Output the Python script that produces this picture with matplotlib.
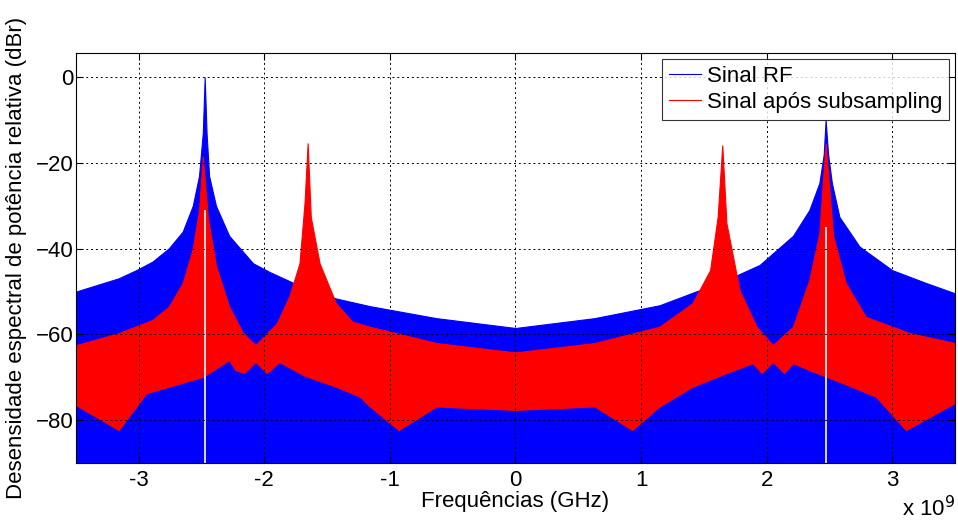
import numpy as np
import matplotlib
matplotlib.use("Agg")
import matplotlib.pyplot as plt

plt.rcParams['font.family'] = ['Liberation Sans', 'DejaVu Sans']

# === Envolventes (freq em GHz, nivel em dBr) ===
rf_freq = [-3.5, -3.16, -3.02, -2.89, -2.76, -2.65, -2.57, -2.52, -2.49, -2.475,
           -2.46, -2.44, -2.385, -2.28, -2.09, -1.96, -1.70, -1.43, -1.16, -0.63,
           0.0, 0.63, 1.147, 1.68, 1.944, 2.21, 2.34, 2.42, 2.455, 2.47,
           2.49, 2.52, 2.58, 2.74, 3.0, 3.27, 3.5]
rf_top = [-50.0, -46.9, -45.0, -43.0, -39.9, -36.0, -30.0, -23.0, -13.0, 0.0,
          -13.0, -23.0, -30.0, -37.0, -43.4, -45.4, -48.9, -51.6, -53.4, -56.2,
          -58.5, -56.2, -53.2, -47.3, -43.8, -37.0, -31.0, -24.7, -18.0, -10.0,
          -18.0, -24.7, -32.6, -39.5, -45.0, -48.0, -50.4]

sub_freq_top = [-3.5, -3.16, -2.89, -2.76, -2.65, -2.57, -2.52, -2.49, -2.45, -2.385,
                -2.28, -2.17, -2.07, -1.90, -1.80, -1.72, -1.68, -1.655, -1.63, -1.56,
                -1.43, -1.30, -1.16, -0.63, 0.0, 0.63, 1.147, 1.41, 1.55, 1.61,
                1.647, 1.68, 1.785, 1.92, 2.05, 2.21, 2.34, 2.42, 2.47, 2.53,
                2.63, 2.79, 3.14, 3.5]
sub_top = [-62.5, -59.7, -56.6, -53.5, -48.0, -40.0, -31.0, -18.6, -32.6, -44.0,
           -53.5, -59.7, -62.5, -57.4, -51.0, -43.4, -29.4, -15.4, -32.6, -43.4,
           -52.7, -57.0, -58.2, -62.0, -64.2, -62.0, -58.2, -52.7, -45.0, -32.6,
           -15.9, -34.0, -49.7, -58.2, -62.5, -58.2, -47.3, -36.4, -15.5, -37.0,
           -48.0, -55.9, -59.7, -62.0]

sub_freq_bot = [-3.5, -3.16, -2.94, -2.76, -2.49, -2.28, -2.23, -2.16, -2.07, -1.98,
                -1.88, -1.69, -1.43, -1.24, -1.16, -0.93, -0.63, 0.0, 0.63, 0.93,
                1.147, 1.41, 1.68, 1.89, 1.96, 2.05, 2.14, 2.21, 2.34, 2.61,
                2.87, 3.11, 3.5]
sub_bot = [-76.5, -82.3, -73.7, -72.2, -69.9, -66.0, -68.3, -69.0, -66.4, -69.0,
           -66.4, -69.5, -72.2, -74.5, -76.8, -82.3, -76.8, -77.6, -76.8, -82.3,
           -76.8, -72.2, -69.0, -66.7, -69.0, -66.4, -69.0, -66.7, -68.3, -71.4,
           -74.5, -82.3, -76.0]

# bins vazios na frequencia da portadora (linha branca)
notch_freq = [-2.475, 2.47]
notch_top = [-31.0, -35.0]

piso = -95.0

# === Figura ===
fig = plt.figure(figsize=(9.58, 5.2), dpi=100)
ax = fig.add_axes([0.0793, 0.1096, 0.9175, 0.788])

sf_top = np.array(sub_freq_top) * 1e9
sf_bot = np.array(sub_freq_bot) * 1e9
sf_all = np.union1d(sf_top, sf_bot)

ax.fill_between(np.array(rf_freq) * 1e9, piso, rf_top, color='#0000ff', lw=0.8)
ax.fill_between(sf_all, np.interp(sf_all, sf_bot, sub_bot),
                np.interp(sf_all, sf_top, sub_top), color='#ff0000', lw=0.8)
ax.vlines(np.array(notch_freq) * 1e9, piso, notch_top, color='white', lw=1.2)

# linhas só para a legenda
ax.plot([], [], color='#0000ff', lw=0.8, label='Sinal RF')
ax.plot([], [], color='#ff0000', lw=0.8, label='Sinal após subsampling')

ax.set_xlim(-3.5e9, 3.5e9)
ax.set_ylim(-90, 5.6)
ax.set_xticks(np.arange(-3, 4) * 1e9)
ax.set_xticklabels([str(v) for v in range(-3, 4)])
ax.set_yticks([0, -20, -40, -60, -80])
ax.tick_params(direction='in', labelsize=16, length=5, top=True, right=True)
ax.tick_params(axis='x', pad=5)
ax.tick_params(axis='y', pad=2)
ax.grid(True, color='black', ls=(0, (2, 3)), lw=0.7)
ax.set_axisbelow(False)
for s in ax.spines.values():
    s.set_linewidth(0.8)

ax.set_xlabel('Frequências (GHz)', fontsize=16, labelpad=0)
ax.set_ylabel('Desensidade espectral de potência relativa (dBr)', fontsize=16,
              labelpad=6)
fig.text(0.997, -0.002, r'x 10$^{9}$', fontsize=16, ha='right', va='bottom')

leg = ax.legend(loc='upper right', fontsize=16, frameon=True, fancybox=False,
                edgecolor='black', borderaxespad=0.25, handlelength=1.45,
                borderpad=0.33, labelspacing=0.2, handletextpad=0.25)
leg.get_frame().set_linewidth(0.8)

fig.savefig('out.png', dpi=100)
